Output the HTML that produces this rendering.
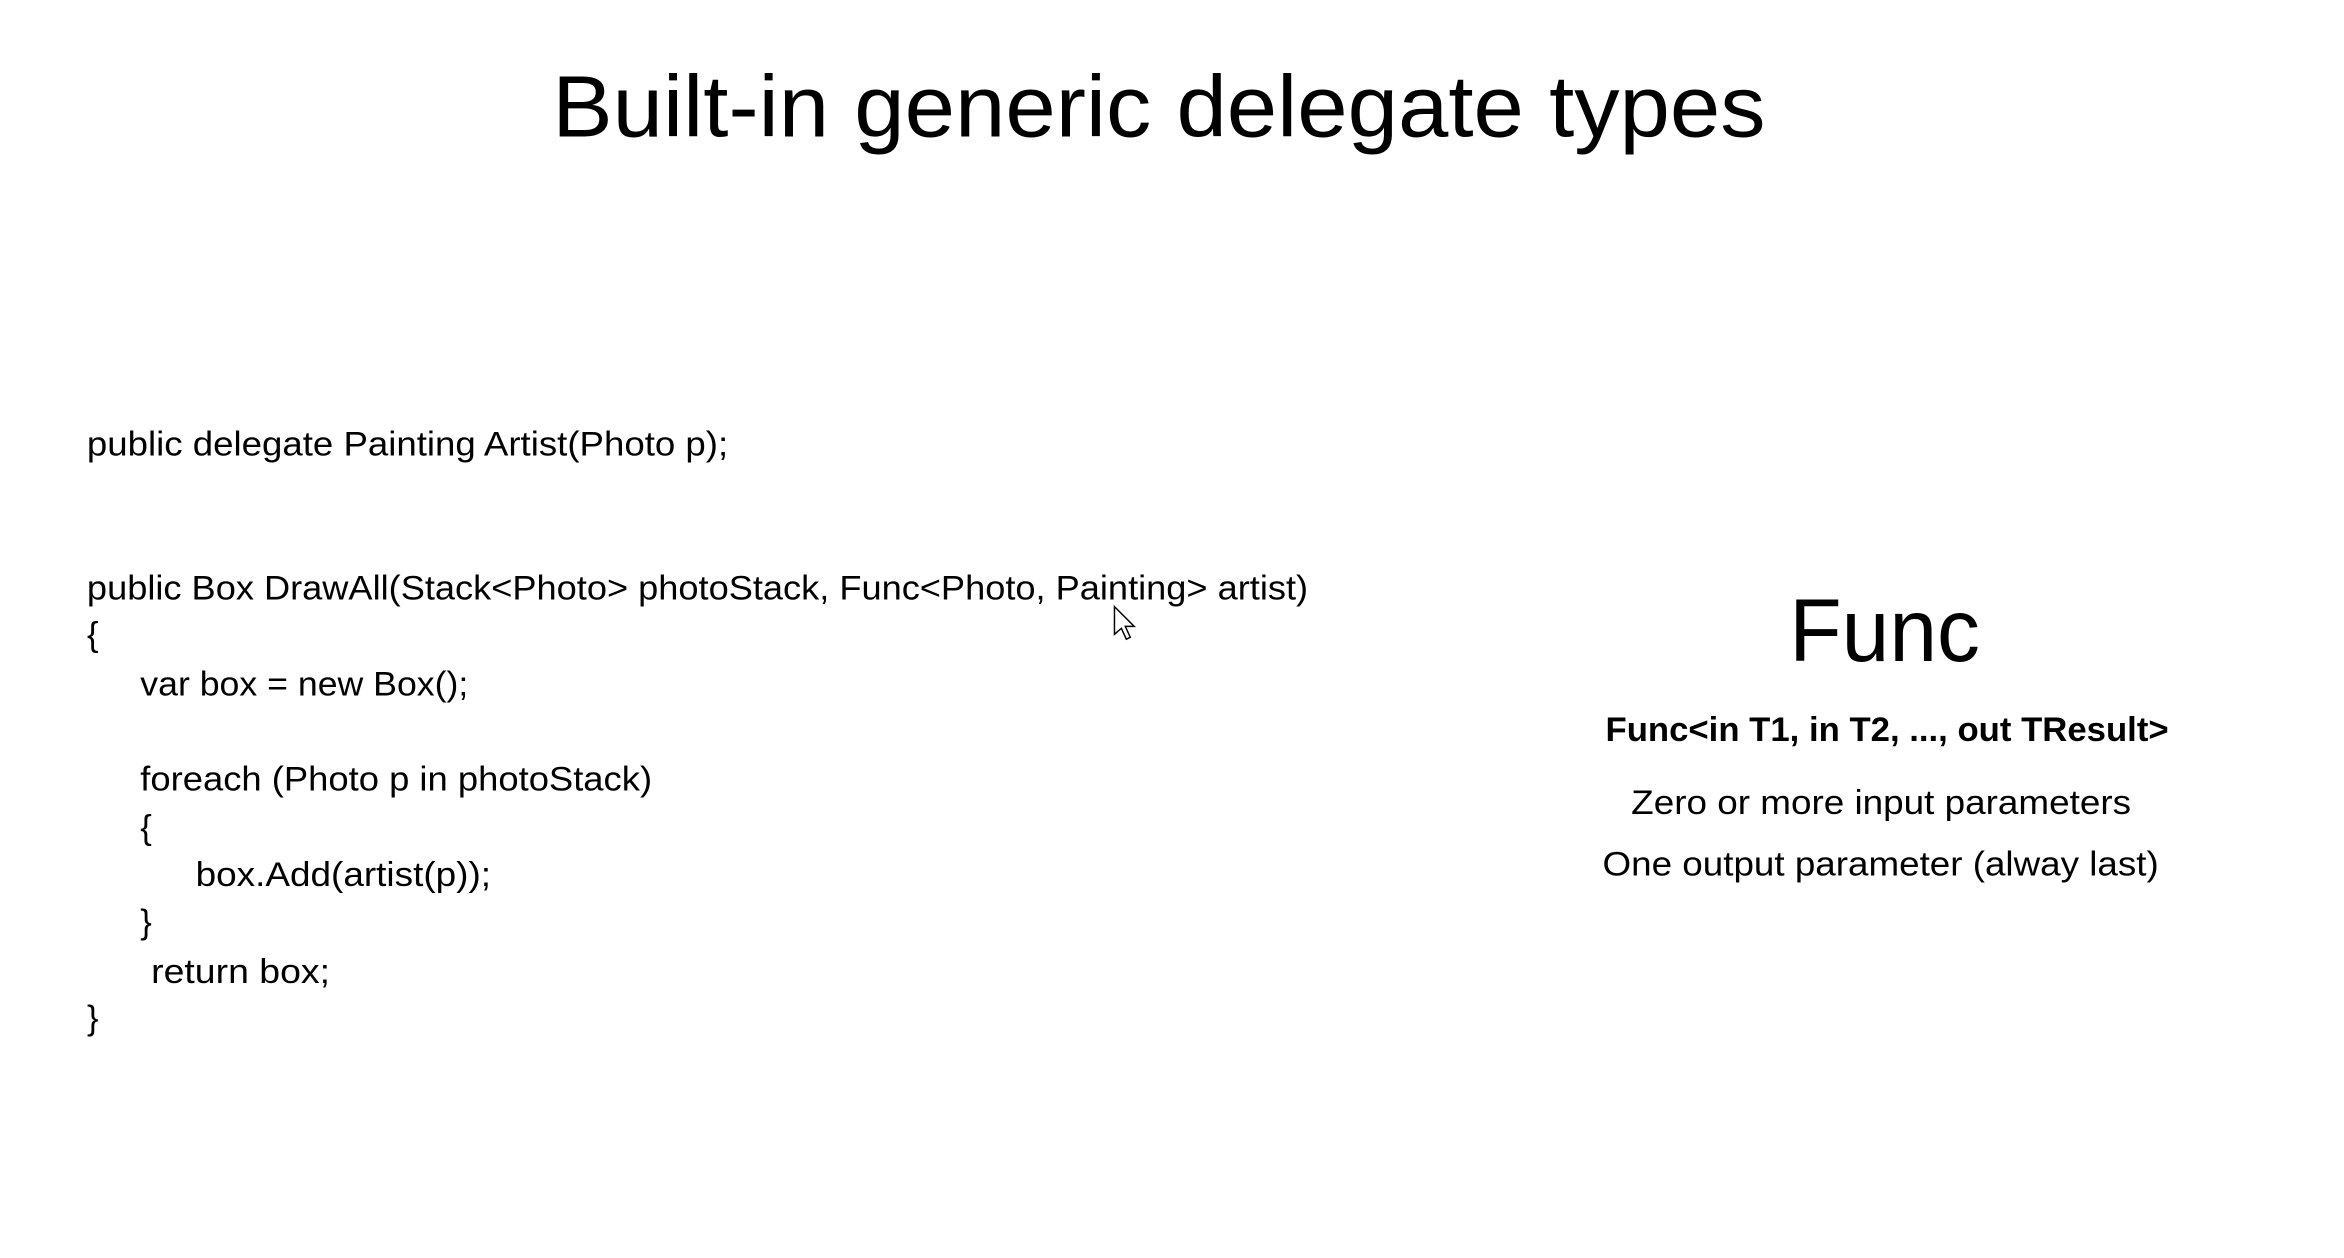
<!DOCTYPE html>
<html><head><meta charset="utf-8"><style>
html,body{margin:0;padding:0;background:#fff;}
svg{display:block;}
text{font-family:"Liberation Sans",sans-serif;fill:#000;}
</style></head><body>
<svg width="2344" height="1258" viewBox="0 0 2344 1258" xmlns="http://www.w3.org/2000/svg">
<rect width="2344" height="1258" fill="#fff"/>
<g transform="scale(0.988)">
<text x="559" y="138" font-size="88" textLength="1228" lengthAdjust="spacingAndGlyphs">Built-in generic delegate types</text>
<g font-size="35">
<text x="88" y="461" textLength="649" lengthAdjust="spacingAndGlyphs">public delegate Painting Artist(Photo p);</text>
<text x="88" y="607" textLength="1236" lengthAdjust="spacingAndGlyphs">public Box DrawAll(Stack&lt;Photo&gt; photoStack,  Func&lt;Photo, Painting&gt; artist)</text>
<text x="88" y="654">{</text>
<text x="142" y="704" textLength="332" lengthAdjust="spacingAndGlyphs">var box = new Box();</text>
<text x="142" y="800" textLength="518" lengthAdjust="spacingAndGlyphs">foreach (Photo p in photoStack)</text>
<text x="142" y="849">{</text>
<text x="198" y="897" textLength="299" lengthAdjust="spacingAndGlyphs">box.Add(artist(p));</text>
<text x="142" y="945">}</text>
<text x="153" y="995" textLength="181" lengthAdjust="spacingAndGlyphs">return box;</text>
<text x="88" y="1042">}</text>
</g>
<g transform="translate(5,0)">
<text x="1806" y="669" font-size="90" textLength="193" lengthAdjust="spacingAndGlyphs">Func</text>
<text x="1620" y="750" font-size="35" font-weight="bold" textLength="570" lengthAdjust="spacingAndGlyphs">Func&lt;in T1, in T2, ...,  out TResult&gt;</text>
<text x="1646" y="824" font-size="35" textLength="506" lengthAdjust="spacingAndGlyphs">Zero or more input parameters</text>
<text x="1617" y="886" font-size="35" textLength="563" lengthAdjust="spacingAndGlyphs">One output parameter (alway last)</text>
</g>
<path d="M1128,614 L1128,642 L1135,636 L1140,647 L1144,645 L1139,634 L1148,634 Z" fill="#fff" stroke="#000" stroke-width="1.5"/>
</g>
</svg>
</body></html>
